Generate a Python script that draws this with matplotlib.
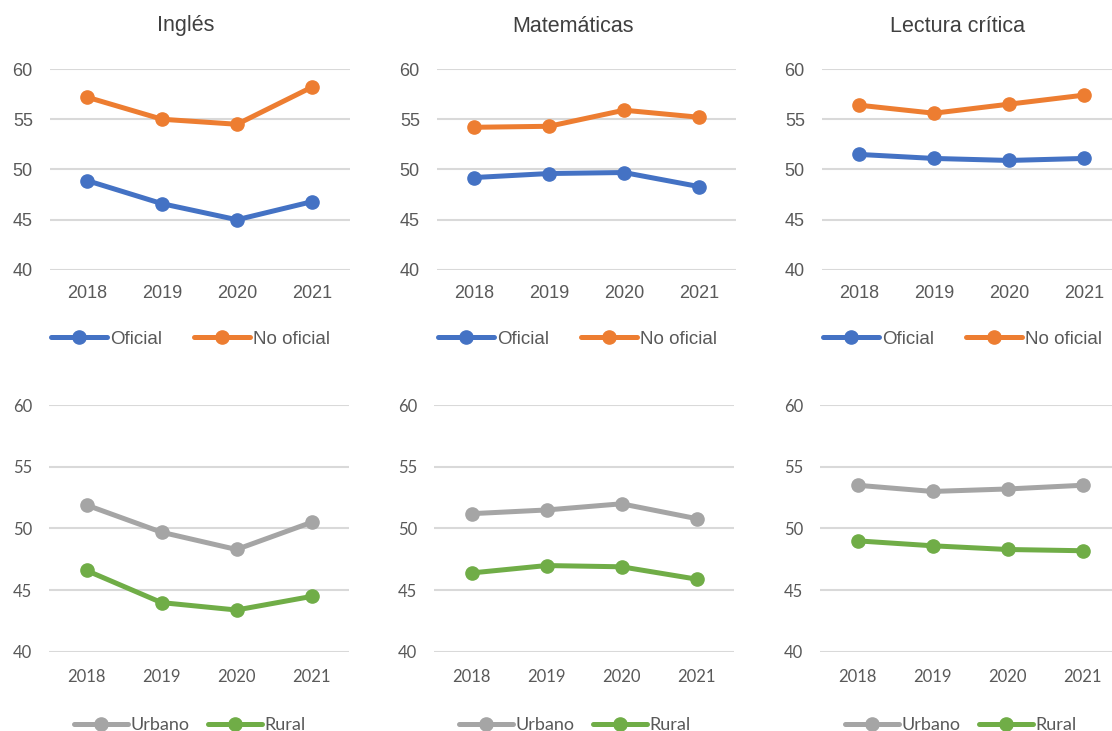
import matplotlib
matplotlib.use("Agg")
import matplotlib.pyplot as plt

# ── Datos ───────────────────────────────────────────────────────────────────
years = ["2018", "2019", "2020", "2021"]
subjects = ["Inglés", "Matemáticas", "Lectura crítica"]

# Sector del colegio
oficial    = [[48.9, 46.6, 45.0, 46.8],
              [49.2, 49.6, 49.7, 48.3],
              [51.5, 51.1, 50.9, 51.1]]
no_oficial = [[57.2, 55.0, 54.5, 58.2],
              [54.2, 54.3, 55.9, 55.2],
              [56.4, 55.6, 56.5, 57.4]]

# Zona del colegio
urbano = [[51.9, 49.7, 48.3, 50.5],
          [51.2, 51.5, 52.0, 50.8],
          [53.5, 53.0, 53.2, 53.5]]
rural  = [[46.6, 44.0, 43.4, 44.5],
          [46.4, 47.0, 46.9, 45.9],
          [49.0, 48.6, 48.3, 48.2]]

yticks = [40, 45, 50, 55, 60]

C_BLUE   = "#4472C4"
C_ORANGE = "#ED7D31"
C_GRAY   = "#A5A5A5"
C_GREEN  = "#70AD47"
C_GRID   = "#D9D9D9"
C_TEXT   = "#595959"

fig = plt.figure(figsize=(11.12, 7.31), dpi=100)
W, H = 1112, 731

# bordes izquierdos de cada panel (px)
top_lefts = [49.5, 436.5, 821.5]
bot_lefts = [49.0, 434.0, 820.0]
AX_W = 300


def style_axis(ax, font, size, xpad, ypad):
    ax.set_ylim(40, 60)
    ax.set_yticks(yticks)
    ax.set_xlim(-0.5, 3.5)
    ax.set_xticks(range(len(years)))
    ax.set_xticklabels(years)
    for s in ax.spines.values():
        s.set_visible(False)
    ax.grid(axis="y", color=C_GRID, linewidth=1.5)
    ax.set_axisbelow(True)
    ax.tick_params(axis="both", length=0, colors=C_TEXT, labelsize=size)
    ax.tick_params(axis="x", pad=xpad)
    ax.tick_params(axis="y", pad=ypad)
    for lab in ax.get_xticklabels() + ax.get_yticklabels():
        lab.set_family(font)


def draw(ax, s1, s2, c1, c2, l1, l2, font, lsize, ly, hlen, cspace):
    x = range(len(years))
    ax.plot(x, s1, color=c1, lw=3.6, marker="o", ms=9.5, label=l1,
            solid_capstyle="round", clip_on=False)
    ax.plot(x, s2, color=c2, lw=3.6, marker="o", ms=9.5, label=l2,
            solid_capstyle="round", clip_on=False)
    leg = ax.legend(loc="center", bbox_to_anchor=(0.47, ly), ncol=2,
                    frameon=False, handlelength=hlen, handletextpad=0.15,
                    columnspacing=cspace, prop={"family": font, "size": lsize})
    for t in leg.get_texts():
        t.set_color(C_TEXT)


for i, subj in enumerate(subjects):
    # fila superior: Oficial / No oficial
    ax = fig.add_axes([top_lefts[i] / W, 1 - 270 / H, AX_W / W, 201 / H])
    style_axis(ax, "Liberation Sans", 13, 11, 12)
    draw(ax, oficial[i], no_oficial[i], C_BLUE, C_ORANGE, "Oficial", "No oficial",
         "Liberation Sans", 13.5, -0.345, 3.0, 1.7)
    ax.set_title(subj, x=0.455, pad=27, fontsize=15.5, color="#404040",
                 family="Liberation Sans")

    # fila inferior: Urbano / Rural
    ax = fig.add_axes([bot_lefts[i] / W, 1 - 652 / H, AX_W / W, 247 / H])
    style_axis(ax, "Lato", 12, 12, 12)
    draw(ax, urbano[i], rural[i], C_GRAY, C_GREEN, "Urbano", "Rural",
         "Lato", 13, -0.295, 3.0, 1.0)

fig.savefig("out.png", dpi=100, facecolor="white")
